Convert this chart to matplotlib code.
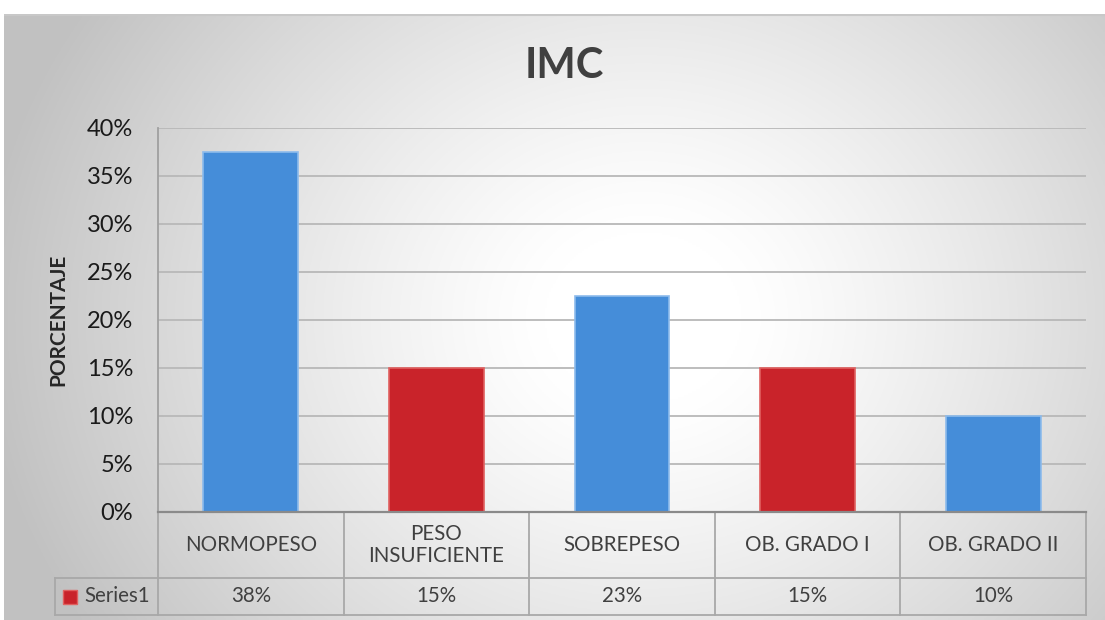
import numpy as np
import matplotlib
matplotlib.use("Agg")
import matplotlib.pyplot as plt
from matplotlib.patches import Rectangle
import matplotlib.transforms as mtransforms

categories = ["NORMOPESO", "PESO\nINSUFICIENTE", "SOBREPESO", "OB. GRADO I", "OB. GRADO II"]
values = [37.5, 15.0, 22.5, 15.0, 10.0]
value_labels = ["38%", "15%", "23%", "15%", "10%"]
bar_colors = ["#458dd9", "#c9232a", "#458dd9", "#c9232a", "#458dd9"]
edge_colors = ["#8dbbec", "#e0605f", "#8dbbec", "#e0605f", "#8dbbec"]
yticks = [0, 5, 10, 15, 20, 25, 30, 35, 40]
ytick_labels = ["0%", "5%", "10%", "15%", "20%", "25%", "30%", "35%", "40%"]
series_name = "Series1"
title = "IMC"
ylabel = "PORCENTAJE"

plt.rcParams['font.family'] = ['Lato', 'DejaVu Sans']

W, H = 1105, 620
fig = plt.figure(figsize=(W / 100, H / 100), dpi=100)
fig.patch.set_facecolor("white")

# Background radial gradient
bg = fig.add_axes([4 / W, 0, 1 - 4 / W, 1 - 14 / H])
ny, nx = 300, 540
yy, xx = np.mgrid[0:ny, 0:nx]
cx, cy = nx * 0.58, ny * 0.50
d = np.sqrt(((xx - cx) / (nx * 0.60)) ** 2 + ((yy - cy) / (ny * 0.95)) ** 2)
d = np.clip((d - 0.15) / 0.85, 0, 1)
lvl = 1.0 - 0.24 * d ** 1.2
img = np.dstack([lvl, lvl, lvl])
bg.imshow(img, aspect="auto", extent=[0, 1, 0, 1], origin="upper")
bg.set_xlim(0, 1)
bg.set_ylim(0, 1)
bg.axis("off")
bg.plot([0, 1], [1 - 1 / 606, 1 - 1 / 606], color="#c8c8c8", lw=1.5, transform=bg.transAxes)

# Main axes
left, right = 158 / W, 1086 / W
bottom, top = 1 - 512 / H, 1 - 128 / H
ax = fig.add_axes([left, bottom, right - left, top - bottom])
ax.set_facecolor("none")
x = np.arange(len(categories))
ax.bar(x, values, width=0.51, color=bar_colors, edgecolor=edge_colors, linewidth=1.2, zorder=3)
ax.set_xlim(-0.5, len(categories) - 0.5)
ax.set_ylim(0, 40)
ax.set_yticks(yticks)
ax.set_yticklabels(ytick_labels, fontsize=17, color="#1a1a1a")
ax.yaxis.grid(True, color="#b8b8b8", linewidth=1.3, zorder=0)
ax.set_axisbelow(True)
ax.tick_params(axis="y", length=0, pad=18)
ax.tick_params(axis="x", length=0, labelbottom=False)
for s in ["top", "right", "bottom"]:
    ax.spines[s].set_visible(False)
ax.spines["left"].set_color("#a0a0a0")
ax.spines["left"].set_linewidth(1.3)
ax.axhline(0, color="#8a8a8a", lw=1.6, zorder=4, clip_on=False)

ax.set_ylabel(ylabel, fontsize=15, fontweight="bold", color="#262626")
ax.yaxis.set_label_coords(-90 / 928, 0.5)

fig.text(564 / W, 1 - 66 / H, title, fontsize=30, fontweight="bold", color="#404040",
         ha="center", va="center")

# Data table
trans = mtransforms.blended_transform_factory(ax.transData, ax.transAxes)
h_row1 = 66 / 384
h_row2 = 37 / 384
y1 = -h_row1
y2 = -h_row1 - h_row2
xs_left = -0.5 - 103 / (928 / 5)
line_kw = dict(color="#a8a8a8", lw=1.3, transform=trans, clip_on=False)
ax.plot([xs_left, 4.5], [y2, y2], **line_kw)
ax.plot([xs_left, 4.5], [y1, y1], **line_kw)
ax.plot([xs_left, xs_left], [y1, y2], **line_kw)
for b in np.arange(-0.5, 5.0, 1.0):
    ax.plot([b, b], [0, y2], **line_kw)
for i, (c, v) in enumerate(zip(categories, value_labels)):
    ax.text(i, y1 / 2, c, transform=trans, ha="center", va="center", fontsize=14.8,
            color="#404040", linespacing=1.1)
    ax.text(i, (y1 + y2) / 2, v, transform=trans, ha="center", va="center", fontsize=14.8,
            color="#404040")
ax.text(-0.5 - 8 / (928 / 5), (y1 + y2) / 2, series_name, transform=trans, ha="right", va="center",
        fontsize=14.8, color="#404040")
sq = Rectangle((63 / W, 1 - 604 / H), 14 / W, 14 / H, transform=fig.transFigure,
               facecolor="#c9232a", edgecolor="#e0605f", lw=1)
fig.patches.append(sq)

fig.savefig("out.png", dpi=100, facecolor="white")
